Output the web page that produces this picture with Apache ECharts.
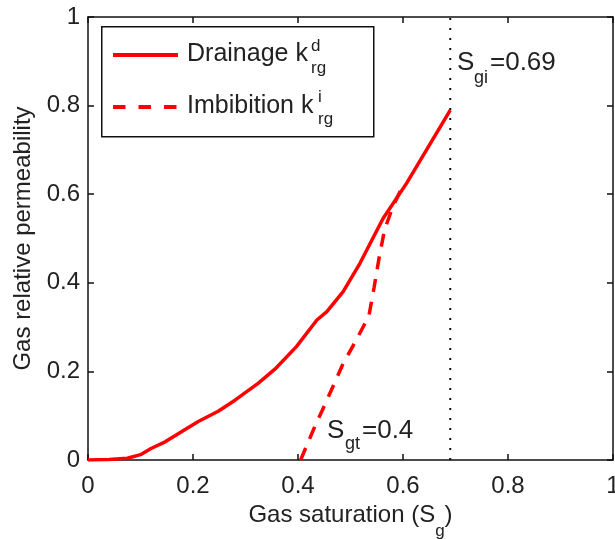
<!DOCTYPE html>
<html>
<head>
<meta charset="utf-8">
<script src="https://cdn.jsdelivr.net/npm/echarts@6/dist/echarts.min.js"></script>
<style>html,body{margin:0;padding:0;background:#fff;}#c{width:615px;height:539px;}</style>
</head>
<body>
<div id="c"></div>
<script>
// ---- data ----
var drainX = [0, 0.04, 0.075, 0.1, 0.12, 0.147, 0.178, 0.21, 0.248, 0.28, 0.324, 0.356, 0.397, 0.436, 0.455, 0.486, 0.518, 0.562, 0.607, 0.69];
var drainY = [0, 0.001, 0.004, 0.012, 0.026, 0.041, 0.064, 0.087, 0.11, 0.135, 0.173, 0.205, 0.256, 0.316, 0.335, 0.38, 0.444, 0.545, 0.625, 0.79];
var imbX = [0.405, 0.43, 0.455, 0.485, 0.515, 0.535, 0.545, 0.555, 0.565, 0.58, 0.6];
var imbY = [0, 0.07, 0.135, 0.215, 0.28, 0.325, 0.39, 0.46, 0.52, 0.57, 0.62];
var sgiValue = 0.69;
var sgtValue = 0.4;
var axisTicks = [0, 0.2, 0.4, 0.6, 0.8, 1];
var xTitle = 'Gas saturation (S';
var yTitle = 'Gas relative permeability';

function pairs(xs, ys) { return xs.map(function (x, i) { return [x, ys[i]]; }); }

var FONT = "'Liberation Sans', Arial, Helvetica, sans-serif";
var TXT = '#222';
var chart = echarts.init(document.getElementById('c'), null, {renderer: 'canvas'});

function axisCommon(extra) {
  var base = {
    type: 'value', min: 0, max: 1, interval: 0.2,
    axisLine: {show: true, onZero: false, lineStyle: {color: '#111', width: 1.5}},
    axisTick: {show: true, inside: true, length: 6, lineStyle: {color: '#111', width: 1.5}},
    splitLine: {show: false},
    axisLabel: {show: true, color: TXT, fontSize: 24, fontFamily: FONT,
      formatter: function (v) { return String(+v.toFixed(1)); }}
  };
  for (var k in extra) base[k] = extra[k];
  return base;
}

var option = {
  animation: false,
  backgroundColor: '#fff',
  grid: {left: 88, right: 2, top: 17, bottom: 79, containLabel: false, outerBoundsMode: 'none'},
  xAxis: [
    axisCommon({position: 'bottom',
      axisLabel: {show: true, color: TXT, fontSize: 24, fontFamily: FONT, margin: 14,
        formatter: function (v) { return String(+v.toFixed(1)); }},
      name: '{m|' + xTitle + '}{s|g}{m|)}', nameLocation: 'middle', nameGap: 42,
      nameTextStyle: {color: TXT, fontFamily: FONT, fontSize: 24,
        rich: {m: {fontSize: 24, fontFamily: FONT, color: TXT, verticalAlign: 'top', padding: [0, 0, 13, 0]},
               s: {fontSize: 17, fontFamily: FONT, color: TXT, verticalAlign: 'bottom'}}}}),
    axisCommon({position: 'top', axisLabel: {show: false}})
  ],
  yAxis: [
    axisCommon({position: 'left',
      axisLabel: {show: true, color: TXT, fontSize: 24, fontFamily: FONT, margin: 8,
        formatter: function (v) { return String(+v.toFixed(1)); }},
      name: yTitle, nameLocation: 'middle', nameGap: 52,
      nameTextStyle: {color: TXT, fontFamily: FONT, fontSize: 24}}),
    axisCommon({position: 'right', axisLabel: {show: false}})
  ],
  series: [
    {name: 'Drainage', type: 'line', data: pairs(drainX, drainY), symbol: 'none',
      lineStyle: {color: '#ff0000', width: 3.5}, z: 3},
    {name: 'Imbibition', type: 'line', data: pairs(imbX, imbY), symbol: 'none',
      lineStyle: {color: '#ff0000', width: 3.5, type: [13, 10]}, z: 3},
    {name: 'Sgi', type: 'line', data: [[sgiValue, 0], [sgiValue, 1]], symbol: 'none',
      lineStyle: {color: '#111', width: 2, type: [2, 8]}, z: 2}
  ],
  graphic: [
    {type: 'rect', left: 101, top: 26, shape: {width: 272, height: 110},
      style: {fill: '#fff', stroke: '#111', lineWidth: 1.5}, z: 10},
    {type: 'line', shape: {x1: 113, y1: 55, x2: 178, y2: 55},
      style: {stroke: '#ff0000', lineWidth: 4}, z: 11},
    {type: 'line', shape: {x1: 113, y1: 107, x2: 178, y2: 107},
      style: {stroke: '#ff0000', lineWidth: 4, lineDash: [12.5, 13]}, z: 11},
    {type: 'text', x: 187, y: 54.5, style: {text: 'Drainage k', font: '25px ' + FONT, fill: TXT, verticalAlign: 'middle'}, z: 11},
    {type: 'text', x: 311, y: 46, style: {text: 'd', font: '17px ' + FONT, fill: TXT, verticalAlign: 'middle'}, z: 11},
    {type: 'text', x: 311, y: 68, style: {text: 'rg', font: '17px ' + FONT, fill: TXT, verticalAlign: 'middle'}, z: 11},
    {type: 'text', x: 187, y: 106, style: {text: 'Imbibition k', font: '25px ' + FONT, fill: TXT, verticalAlign: 'middle'}, z: 11},
    {type: 'text', x: 318, y: 97, style: {text: 'i', font: '17px ' + FONT, fill: TXT, verticalAlign: 'middle'}, z: 11},
    {type: 'text', x: 318, y: 119, style: {text: 'rg', font: '17px ' + FONT, fill: TXT, verticalAlign: 'middle'}, z: 11},
    // annotations
    {type: 'text', x: 457, y: 63, style: {text: 'S', font: '26px ' + FONT, fill: TXT, verticalAlign: 'middle'}, z: 11},
    {type: 'text', x: 474, y: 78, style: {text: 'gi', font: '18px ' + FONT, fill: TXT, verticalAlign: 'middle'}, z: 11},
    {type: 'text', x: 490, y: 63, style: {text: '=' + sgiValue, font: '26px ' + FONT, fill: TXT, verticalAlign: 'middle'}, z: 11},
    {type: 'text', x: 327, y: 431, style: {text: 'S', font: '26px ' + FONT, fill: TXT, verticalAlign: 'middle'}, z: 11},
    {type: 'text', x: 345, y: 444, style: {text: 'gt', font: '18px ' + FONT, fill: TXT, verticalAlign: 'middle'}, z: 11},
    {type: 'text', x: 362, y: 431, style: {text: '=' + sgtValue, font: '26px ' + FONT, fill: TXT, verticalAlign: 'middle'}, z: 11}
  ]
};
chart.setOption(option);
</script>
</body>
</html>
